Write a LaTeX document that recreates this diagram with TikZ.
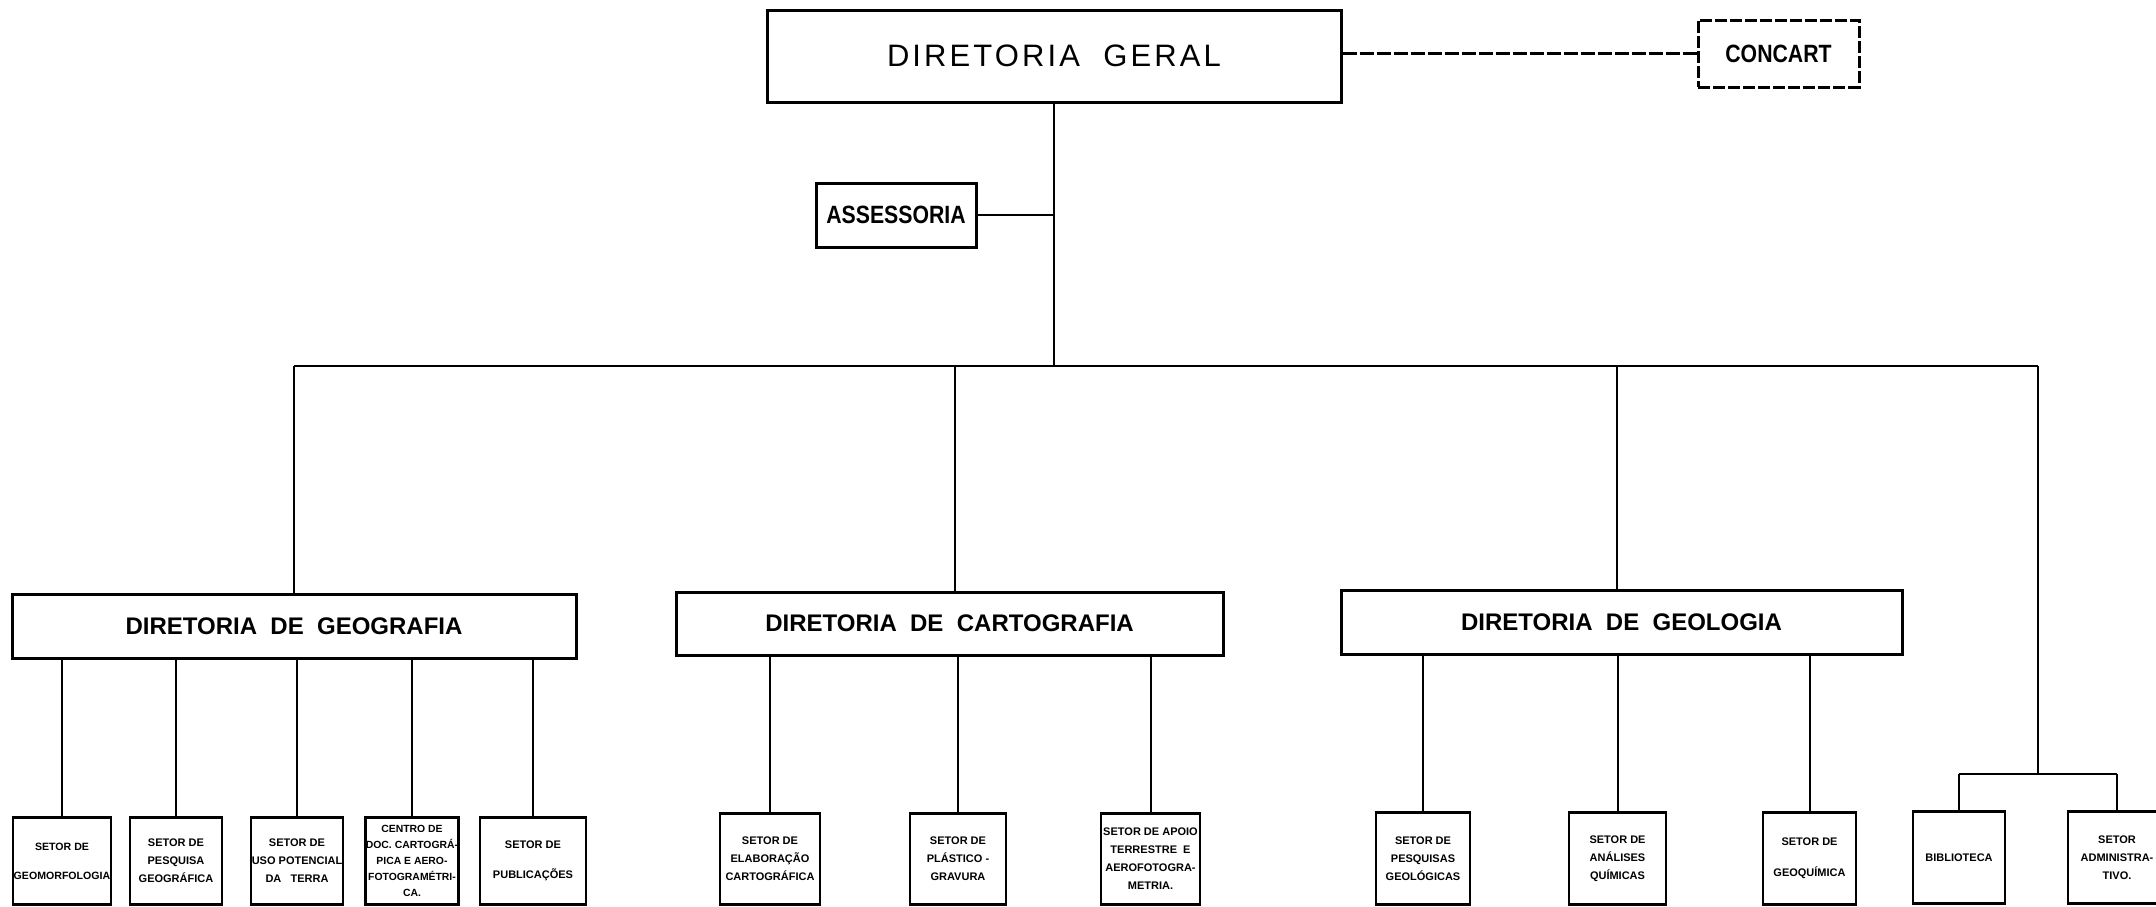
\documentclass[tikz,border=0pt]{standalone}
\usepackage{fontspec}
\setmainfont{Liberation Sans}
\newfontfamily\condf{Liberation Sans}[FakeStretch=0.85]
\newfontfamily\widef{Liberation Sans}[LetterSpace=10]
\begin{document}
\begin{tikzpicture}[x=0.5pt,y=-0.5pt,
  bx/.style={draw, line width=1.5pt, inner sep=0pt, align=center},
  dgst/.style={bx, font=\widef\fontsize{15.5}{18}\selectfont},
  dirst/.style={bx, font=\fontsize{12}{14}\selectfont\bfseries},
  sidest/.style={bx, font=\condf\fontsize{12.5}{14}\selectfont\bfseries},
  sbox/.style={bx, anchor=north, line width=1.4pt, font=\fontsize{5.5}{9}\selectfont\bfseries},
  ln/.style={line width=1pt},
  dln/.style={line width=1.4pt, dash pattern=on 7pt off 1.5pt}]
\useasboundingbox (0,0) rectangle (2156,906);
% top level
\node[dgst, minimum width=287pt, minimum height=46pt] (dg) at (1054,56) {DIRETORIA\ \ GERAL};
\node[sidest, dash pattern=on 6pt off 1.5pt, minimum width=80.5pt, minimum height=33.5pt] (concart) at (1778.5,53.5) {CONCART};
\node[sidest, minimum width=80pt, minimum height=32pt] (assess) at (896,215) {ASSESSORIA};
% directorates
\node[dirst, minimum width=282pt, minimum height=32pt] (geog) at (294,626) {DIRETORIA\ \ DE\ \ GEOGRAFIA};
\node[dirst, minimum width=273.5pt, minimum height=31.5pt] (cart) at (949.5,623.5) {DIRETORIA\ \ DE\ \ CARTOGRAFIA};
\node[dirst, minimum width=280.5pt, minimum height=32pt] (geol) at (1621.5,622) {DIRETORIA\ \ DE\ \ GEOLOGIA};
% geografia sectors
\node[sbox, minimum width=49pt, minimum height=43.5pt, font=\fontsize{5.3}{9}\selectfont\bfseries] (g1) at (62,816) {SETOR DE\\[5.5pt]GEOMORFOLOGIA};
\node[sbox, minimum width=46pt, minimum height=43.5pt] (g2) at (176,816) {SETOR DE\\PESQUISA\\GEOGRÁFICA};
\node[sbox, minimum width=46pt, minimum height=43.5pt] (g3) at (297,816) {SETOR DE\\USO POTENCIAL\\DA\ \ \ TERRA};
\node[sbox, minimum width=45pt, minimum height=43.5pt, font=\fontsize{5.2}{8}\selectfont\bfseries] (g4) at (412,816) {CENTRO DE\\DOC. CARTOGRÁ-\\PICA E AERO-\\FOTOGRAMÉTRI-\\CA.};
\node[sbox, minimum width=53pt, minimum height=43.5pt] (g5) at (533,816) {SETOR DE\\[6pt]PUBLICAÇÕES};
% cartografia sectors
\node[sbox, minimum width=50pt, minimum height=45.5pt] (c1) at (770,812) {SETOR DE\\ELABORAÇÃO\\CARTOGRÁFICA};
\node[sbox, minimum width=48pt, minimum height=45.5pt] (c2) at (958,812) {SETOR DE\\PLÁSTICO -\\GRAVURA};
\node[sbox, minimum width=49.5pt, minimum height=45.5pt] (c3) at (1150.5,812) {SETOR DE APOIO\\TERRESTRE\ \ E\\AEROFOTOGRA-\\METRIA.};
% geologia sectors
\node[sbox, minimum width=47pt, minimum height=46pt] (l1) at (1423,811) {SETOR DE\\PESQUISAS\\GEOLÓGICAS};
\node[sbox, minimum width=48.5pt, minimum height=46pt] (l2) at (1617.5,811) {SETOR DE\\ANÁLISES\\QUÍMICAS};
\node[sbox, minimum width=46.5pt, minimum height=46pt] (l3) at (1809.5,811) {SETOR DE\\[6.5pt]GEOQUÍMICA};
\node[sbox, minimum width=46pt, minimum height=46pt] (bib) at (1959,810) {BIBLIOTECA};
\node[sbox, minimum width=49pt, minimum height=46pt] (adm) at (2117,810) {SETOR\\ADMINISTRA-\\TIVO.};
% connectors top
\coordinate (hub) at (1054,366);
\draw[ln] (dg.south) -- (hub);
\draw[ln] (assess.east) -- (assess.east -| dg.south);
\draw[dln] (concart.west -| dg.east) -- (concart.west);
% main bus
\coordinate (mL) at (294,366);
\coordinate (mC) at (955,366);
\coordinate (mG) at (1617,366);
\coordinate (mR) at (2038,366);
\coordinate (rj) at (2038,774);
\draw[line width=1.4pt] (mL) -- (mR);
\draw[ln] (mL) -- (geog.north);
\draw[ln] (mC) -- (mC |- cart.north);
\draw[ln] (mG) -- (mG |- geol.north);
\draw[ln] (mR) -- (rj);
\draw[line width=1.3pt] (bib.north |- rj) -- (adm.north |- rj);
\draw[ln] (bib.north |- rj) -- (bib.north);
\draw[ln] (adm.north |- rj) -- (adm.north);
% children
\foreach \c in {g1,g2,g3,g4,g5} \draw[ln] (\c.north |- geog.south) -- (\c.north);
\foreach \c in {c1,c2,c3} \draw[ln] (\c.north |- cart.south) -- (\c.north);
\foreach \c in {l1,l2,l3} \draw[ln] (\c.north |- geol.south) -- (\c.north);
\end{tikzpicture}
\end{document}
